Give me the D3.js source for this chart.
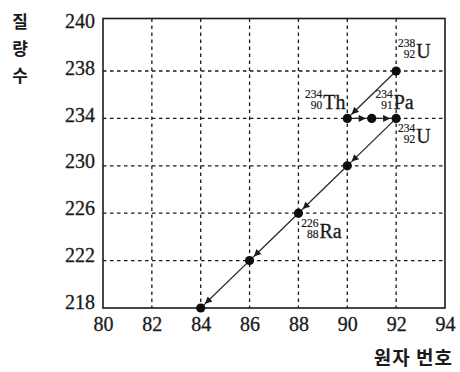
<!DOCTYPE html>
<html><head><meta charset="utf-8">
<script src="https://cdn.jsdelivr.net/npm/d3@7"></script>
<style>
html,body{margin:0;padding:0;background:#fff;}
svg{display:block;}
</style></head>
<body>
<script>
// ---- data ----
const xTicks = [80, 82, 84, 86, 88, 90, 92, 94];
const yTickLabels = ["218", "222", "226", "230", "234", "238", "240"];
const yGrid = [222, 226, 230, 234, 238];
const xGrid = [82, 84, 86, 88, 90, 92];
// decay chain: atomic number, mass number
const chainZ = [92, 90, 91, 92, 90, 88, 86, 84];
const chainA = [238, 234, 234, 234, 230, 226, 222, 218];
// labelled nuclides
const nucSymbol = ["U", "Th", "Pa", "U", "Ra"];
const nucA = [238, 234, 234, 234, 226];
const nucZ = [92, 90, 91, 92, 88];
const yTitle = ["질", "량", "수"];
const xTitle = "원자 번호";

// ---- layout ----
const W = 460, H = 372;
const labelOffsets = [[20, -13], [-24, -9], [22, -9], [20, 25], [21, 25]];

const svg = d3.select("body").append("svg").attr("width", W).attr("height", H);

const x = d3.scaleLinear().domain([80, 94]).range([103, 445]);
const y = d3.scaleLinear().domain([218, 238, 240]).range([308, 71, 18.5]);
const yLab = d3.scalePoint().domain(yTickLabels).range([302, 21]);

const ink = "#1a1a1a";

// grid
svg.append("g").selectAll("line").data(xGrid).join("line")
  .attr("x1", d => x(d)).attr("x2", d => x(d))
  .attr("y1", y(240)).attr("y2", y(218))
  .attr("stroke", ink).attr("stroke-width", 1.3).attr("stroke-dasharray", "3.5,3.5");
svg.append("g").selectAll("line").data(yGrid).join("line")
  .attr("y1", d => y(d)).attr("y2", d => y(d))
  .attr("x1", x(80)).attr("x2", x(94))
  .attr("stroke", ink).attr("stroke-width", 1.3).attr("stroke-dasharray", "3.5,3.5");

// frame
svg.append("rect").attr("x", x(80)).attr("y", y(240))
  .attr("width", x(94) - x(80)).attr("height", y(218) - y(240))
  .attr("fill", "none").attr("stroke", ink).attr("stroke-width", 1.6);

// axes
const serif = "'Liberation Serif', 'DejaVu Serif', serif";
const xAxis = svg.append("g").attr("transform", `translate(0,${y(218)})`)
  .call(d3.axisBottom(x).tickValues(xTicks).tickFormat(d3.format("d")).tickSize(0).tickPadding(9));
const yAxis = svg.append("g").attr("transform", `translate(${x(80)},0)`)
  .call(d3.axisLeft(yLab).tickSize(0).tickPadding(8));
[xAxis, yAxis].forEach(g => {
  g.select(".domain").remove();
  g.selectAll("text").attr("font-family", serif).attr("font-size", 20).attr("fill", ink)
    .attr("stroke", ink).attr("stroke-width", 0.3);
});

// arrow marker
svg.append("defs").append("marker")
  .attr("id", "arr").attr("viewBox", "0 0 10 10").attr("refX", 10).attr("refY", 5)
  .attr("markerUnits", "userSpaceOnUse").attr("markerWidth", 9).attr("markerHeight", 7)
  .attr("orient", "auto")
  .append("path").attr("d", "M0,0 L10,5 L0,10 Z").attr("fill", ink);

// chain segments
const pts = chainZ.map((z, i) => [x(z), y(chainA[i])]);
const segs = d3.pairs(pts);
svg.append("g").selectAll("line").data(segs).join("line")
  .each(function([a, b]) {
    const dx = b[0] - a[0], dy = b[1] - a[1];
    const L = Math.hypot(dx, dy), gap = 6;
    d3.select(this)
      .attr("x1", a[0]).attr("y1", a[1])
      .attr("x2", b[0] - dx / L * gap).attr("y2", b[1] - dy / L * gap);
  })
  .attr("stroke", "#2a2a2a").attr("stroke-width", 1.3)
  .attr("marker-end", "url(#arr)");
// continuation lines into the dots
svg.append("g").selectAll("line").data(segs).join("line")
  .attr("x1", d => d[0][0]).attr("y1", d => d[0][1])
  .attr("x2", d => d[1][0]).attr("y2", d => d[1][1])
  .attr("stroke", "#2a2a2a").attr("stroke-width", 1.2)
  .attr("stroke-dasharray", function(d){
    const L = Math.hypot(d[1][0]-d[0][0], d[1][1]-d[0][1]);
    return `0,${L-6},6`;
  });

// dots
svg.append("g").selectAll("circle").data(pts).join("circle")
  .attr("cx", d => d[0]).attr("cy", d => d[1]).attr("r", 4.6).attr("fill", "#0d0d0d");

// nuclide labels
const lab = svg.append("g").selectAll("g").data(nucSymbol.map((s, i) => i)).join("g")
  .attr("transform", i => `translate(${x(nucZ[i]) + labelOffsets[i][0]},${y(nucA[i]) + labelOffsets[i][1]})`);
lab.append("text").text(i => nucSymbol[i]).attr("x", 0).attr("y", 0)
  .attr("font-family", serif).attr("font-size", 20).attr("fill", ink)
  .attr("stroke", ink).attr("stroke-width", 0.3);
lab.append("text").text(i => nucA[i]).attr("x", -1).attr("y", -11)
  .attr("text-anchor", "end").attr("font-family", serif).attr("font-size", 11.5).attr("fill", ink)
  .attr("stroke", ink).attr("stroke-width", 0.2);
lab.append("text").text(i => nucZ[i]).attr("x", -1).attr("y", 0)
  .attr("text-anchor", "end").attr("font-family", serif).attr("font-size", 11.5).attr("fill", ink)
  .attr("stroke", ink).attr("stroke-width", 0.2);

// axis titles
const kr = "'Noto Sans CJK KR', sans-serif";
svg.append("g").selectAll("text").data(yTitle).join("text")
  .text(d => d).attr("x", 20).attr("y", (d, i) => 22 + i * 27)
  .attr("dy", "0.36em").attr("text-anchor", "middle")
  .attr("font-family", kr).attr("font-weight", 700).attr("font-size", 17).attr("fill", ink);
svg.append("text").text(xTitle).attr("x", 453).attr("y", 365)
  .attr("text-anchor", "end").attr("font-family", kr).attr("font-weight", 700)
  .attr("font-size", 19).attr("letter-spacing", 1).attr("fill", ink);
</script>
</body></html>
